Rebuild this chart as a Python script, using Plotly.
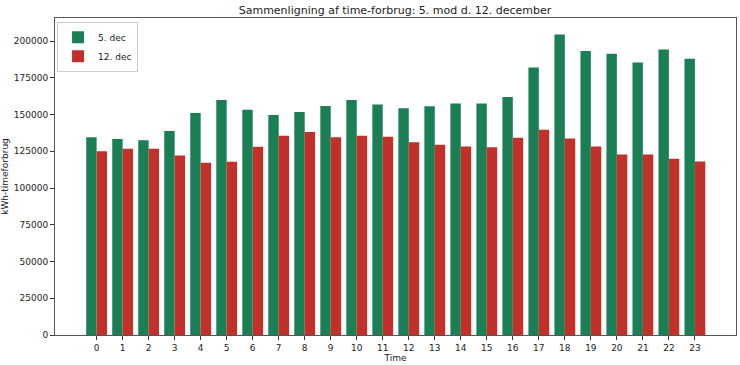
import plotly.graph_objects as go

hours = list(range(24))
dec5 = [134500, 133300, 132600, 138800, 151000, 159900, 153300, 149700, 151700, 155800,
        159900, 156900, 154300, 155600, 157500, 157500, 162000, 182000, 204500, 193200,
        191400, 185400, 194300, 188000]
dec12 = [125000, 126800, 126700, 122200, 117200, 117900, 128100, 135600, 138100, 134500,
         135600, 134900, 131100, 129500, 128200, 127700, 134300, 139600, 133700, 128200,
         122900, 122900, 119900, 118100]
yticks = [0, 25000, 50000, 75000, 100000, 125000, 150000, 175000, 200000]

fig = go.Figure()
fig.add_trace(go.Bar(x=hours, y=dec5, name="5. dec", marker=dict(color="#1b7f56", line=dict(width=0))))
fig.add_trace(go.Bar(x=hours, y=dec12, name="12. dec", marker=dict(color="#c1312a", line=dict(width=0))))

fig.update_layout(
    width=740, height=365,
    margin=dict(l=55, r=4, t=18, b=30, autoexpand=False),
    barmode="group", bargap=0.2, bargroupgap=0,
    plot_bgcolor="white", paper_bgcolor="white",
    font=dict(family="DejaVu Sans", size=9, color="#222"),
    title=dict(text="Sammenligning af time-forbrug: 5. mod d. 12. december",
               x=395 / 740, xanchor="center", y=1 - 10 / 365, yanchor="middle",
               font=dict(size=11, color="#222"), automargin=False),
    legend=dict(x=0.003, y=0.988, xanchor="left", yanchor="top",
                bordercolor="#ccc", borderwidth=1, bgcolor="rgba(255,255,255,0.8)",
                font=dict(size=9), itemwidth=30, tracegroupgap=0),
    showlegend=True,
)
fig.update_xaxes(range=[-1.6, 24.58], tickmode="array", tickvals=hours,
                 ticktext=[str(h) for h in hours], ticks="outside", ticklen=4,
                 tickcolor="#333", showline=True, linecolor="#555", linewidth=1, mirror=True,
                 showgrid=False, zeroline=False, automargin=False,
                 title=dict(text="Time", font=dict(size=9), standoff=2))
fig.update_yaxes(range=[0, 215700], tickmode="array", tickvals=yticks,
                 ticktext=[str(v) for v in yticks], ticks="outside", ticklen=4,
                 tickcolor="#333", showline=True, linecolor="#555", linewidth=1, mirror=True,
                 showgrid=False, zeroline=False, automargin=False,
                 title=dict(text="kWh-timeforbrug", font=dict(size=9), standoff=4))

fig.write_html("out.html", config={"displayModeBar": False},
               post_script="document.body.style.margin='0';document.body.style.overflow='hidden';")
